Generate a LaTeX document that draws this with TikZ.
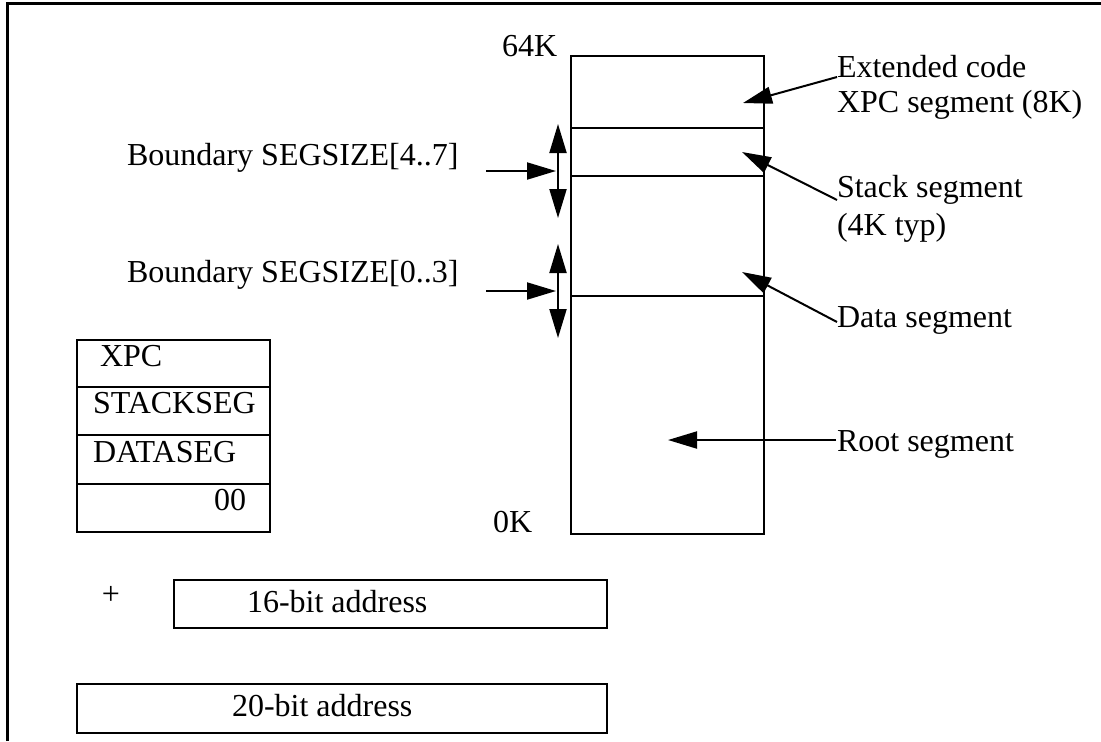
\documentclass[tikz,border=0pt]{standalone}
\usepackage{fontspec}
\setmainfont{Liberation Serif}
\usetikzlibrary{arrows.meta,calc}
\begin{document}
\begin{tikzpicture}[x=0.5pt,y=-0.5pt,
  every node/.style={inner sep=0pt,outer sep=0pt,font=\fontsize{16}{18}\selectfont},
  lbl/.style={anchor=base west},
  thin line/.style={line width=1pt},
  frameline/.style={line width=1.5pt},
  arr/.style={line width=1pt,-{Triangle[length=14.5pt,width=8.5pt]}},
  darr/.style={line width=1pt,{Triangle[length=14.5pt,width=8.5pt]}-{Triangle[length=14.5pt,width=8.5pt]}}]
\useasboundingbox (0,0) rectangle (1101,741);
% frame
\draw[frameline] (7,741) -- (7,3.5) -- (1101,3.5);
% memory map
\draw[thin line] (571,56) rectangle (764,534);
\draw[thin line] (571,128) -- (764,128);
\draw[thin line] (571,176) -- (764,176);
\draw[thin line] (571,296) -- (764,296);
\node[lbl] (k64) at (502,56) {64K};
\node[lbl] (k0) at (493,532) {0K};
% right labels
\node[lbl] (ext1) at (837,77) {Extended code};
\node[lbl] (ext2) at (837,112) {XPC segment (8K)};
\node[lbl] (stk1) at (837,197) {Stack segment};
\node[lbl] (stk2) at (837,235) {(4K typ)};
\node[lbl] (dat) at (837,327) {Data segment};
\node[lbl] (root) at (837,451) {Root segment};
\coordinate (extT) at (743,103);
\coordinate (stkT) at (742,152);
\coordinate (datT) at (742,272);
\coordinate (rootT) at (668,440);
\coordinate (rootS) at (836,440);
\draw[arr] (ext1.base west) -- (extT);
\draw[arr] ($(stk1.base west)+(0,3)$) -- (stkT);
\draw[arr] ($(dat.base west)+(0,-5)$) -- (datT);
\draw[arr] (rootS) -- (rootT);
% boundaries
\node[lbl] (b47) at (127,165) {Boundary SEGSIZE[4..7]};
\node[lbl] (b03) at (127,282) {Boundary SEGSIZE[0..3]};
\coordinate (b47s) at (486,171);
\coordinate (b47t) at (556,171);
\coordinate (b03s) at (486,291);
\coordinate (b03t) at (556,291);
\coordinate (v1a) at (558,124);
\coordinate (v1b) at (558,218);
\coordinate (v2a) at (558,244);
\coordinate (v2b) at (558,338);
\draw[arr] (b47s) -- (b47t);
\draw[arr] (b03s) -- (b03t);
\draw[darr] (v1a) -- (v1b);
\draw[darr] (v2a) -- (v2b);
% register box
\draw[thin line] (77,340) rectangle (270,532);
\draw[thin line] (77,387) -- (270,387);
\draw[thin line] (77,435) -- (270,435);
\draw[thin line] (77,484) -- (270,484);
\node[lbl] (xpc) at (100,366) {XPC};
\node[lbl] (sseg) at (93,413) {STACKSEG};
\node[lbl] (dseg) at (93,462) {DATASEG};
\node[lbl] (zz) at (214,510) {00};
% addresses
\node[anchor=base] (plus) at (111,604) {+};
\draw[thin line] (174,580) rectangle (607,628);
\node[lbl] (a16) at (247,612) {16-bit address};
\draw[thin line] (77,684) rectangle (607,733);
\node[lbl] (a20) at (232,716) {20-bit address};
\end{tikzpicture}
\end{document}
